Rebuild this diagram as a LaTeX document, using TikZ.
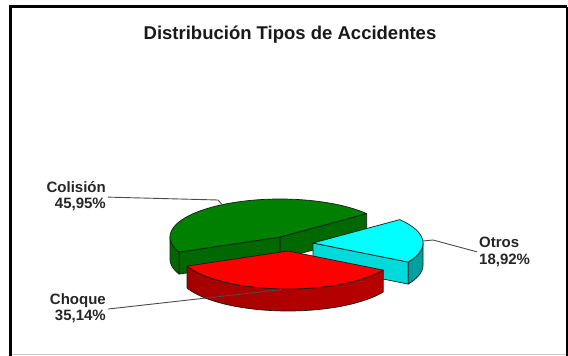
\documentclass[tikz,border=0pt]{standalone}
\usepackage{fontspec}
\setmainfont{Liberation Sans}
\definecolor{gtop}{RGB}{0,128,0}
\definecolor{gside}{RGB}{0,104,0}
\definecolor{rtop}{RGB}{255,0,0}
\definecolor{rsideA}{RGB}{165,0,0}
\definecolor{rsideB}{RGB}{235,10,10}
\definecolor{rsideC}{RGB}{185,0,0}
\definecolor{ctop}{RGB}{0,255,255}
\definecolor{cface}{RGB}{0,218,218}
\definecolor{cside}{RGB}{0,160,160}
\definecolor{edge}{RGB}{20,30,20}
\definecolor{leader}{RGB}{75,75,75}
\begin{document}
\begin{tikzpicture}[x=1pt,y=-1pt,
  facet/.style={draw=edge,line width=0.7pt,line join=round},
  lbl/.style={inner sep=0pt,font=\fontsize{15}{16.5}\selectfont\bfseries,text=black!85},
  leaderline/.style={draw=leader,line width=0.9pt}]
\def\RX{110}\def\RY{38}\def\DP{22}
\useasboundingbox (0,0) rectangle (568,356);
\fill[white] (0,0) rectangle (568,356);
% frame
\draw[line width=3pt] (10.5,356) -- (10.5,6.5) -- (567,6.5);
\draw[line width=2pt] (567,6.5) -- (567,356);
\draw[black!20,line width=1pt] (12,354.5) -- (566,354.5);
% title
\node[font=\fontsize{18.5}{20}\selectfont\bfseries,text=black!90,anchor=base] (title) at (290,39) {Distribución Tipos de Accidentes};
% ---------- green slice (Colisión) apex (280,237), 38 -> 203.4
\filldraw[facet,fill=gside] (280,237) -- ({280+\RX*cos(38)},{237-\RY*sin(38)}) -- ++(0,\DP) -- (280,{237+\DP}) -- cycle;
\filldraw[facet,fill=gside] (280,237) -- ({280+\RX*cos(203.4)},{237-\RY*sin(203.4)}) -- ++(0,\DP) -- (280,{237+\DP}) -- cycle;
\filldraw[facet,fill=gside] plot[domain=180:203.4,samples=20] ({280+\RX*cos(\x)},{237-\RY*sin(\x)}) -- plot[domain=203.4:180,samples=20] ({280+\RX*cos(\x)},{237+\DP-\RY*sin(\x)}) -- cycle;
\filldraw[facet,fill=gtop] (280,237) -- plot[domain=38:203.4,samples=60] ({280+\RX*cos(\x)},{237-\RY*sin(\x)}) -- cycle;
% ---------- cyan slice (Otros) apex (313,243), 329.9 -> 398
\filldraw[facet,fill=cface] (313,243) -- ({313+\RX*cos(329.9)},{243-\RY*sin(329.9)}) -- ++(0,\DP) -- (313,{243+\DP}) -- cycle;
\filldraw[facet,fill=cside] plot[domain=329.9:360,samples=20] ({313+\RX*cos(\x)},{243-\RY*sin(\x)}) -- plot[domain=360:329.9,samples=20] ({313+\RX*cos(\x)},{243+\DP-\RY*sin(\x)}) -- cycle;
\filldraw[facet,fill=ctop] (313,243) -- plot[domain=329.9:398,samples=40] ({313+\RX*cos(\x)},{243-\RY*sin(\x)}) -- cycle;
% ---------- red slice (Choque) apex (288,251), 203.4 -> 329.9
\path[left color=rsideA,middle color=rsideB,right color=rsideC] plot[domain=203.4:329.9,samples=50] ({288+\RX*cos(\x)},{251-\RY*sin(\x)}) -- plot[domain=329.9:203.4,samples=50] ({288+\RX*cos(\x)},{251+\DP-\RY*sin(\x)}) -- cycle;
\draw[facet] plot[domain=203.4:329.9,samples=50] ({288+\RX*cos(\x)},{251-\RY*sin(\x)}) -- plot[domain=329.9:203.4,samples=50] ({288+\RX*cos(\x)},{251+\DP-\RY*sin(\x)}) -- cycle;
\filldraw[facet,fill=rtop] (288,251) -- plot[domain=203.4:329.9,samples=50] ({288+\RX*cos(\x)},{251-\RY*sin(\x)}) -- cycle;
% ---------- anchor points on slices
\coordinate (gpt) at (222,204.5);
\coordinate (gbend) at (218,200);
\coordinate (rpt) at (282,289.5);
\coordinate (cpt) at ({313+\RX*cos(3)},{243-\RY*sin(3)});
\coordinate (cbend) at (433,240);
% ---------- labels
\node[lbl,align=right,anchor=north east] (colision) at (106,181) {Colisión\\45,95\%};
\node[lbl,align=right,anchor=north east] (choque) at (106,293) {Choque\\35,14\%};
\node[lbl,align=left,anchor=north west] (otros) at (479,237) {Otros\\18,92\%};
% ---------- leaders
\draw[leaderline] ([xshift=2pt,yshift=-1pt]colision.east) -- (gbend) -- (gpt);
\draw[leaderline] ([xshift=2pt,yshift=-1pt]choque.east) -- (rpt);
\draw[leaderline] (cpt) -- (cbend) -- ([xshift=-2pt]otros.west);
\end{tikzpicture}
\end{document}
